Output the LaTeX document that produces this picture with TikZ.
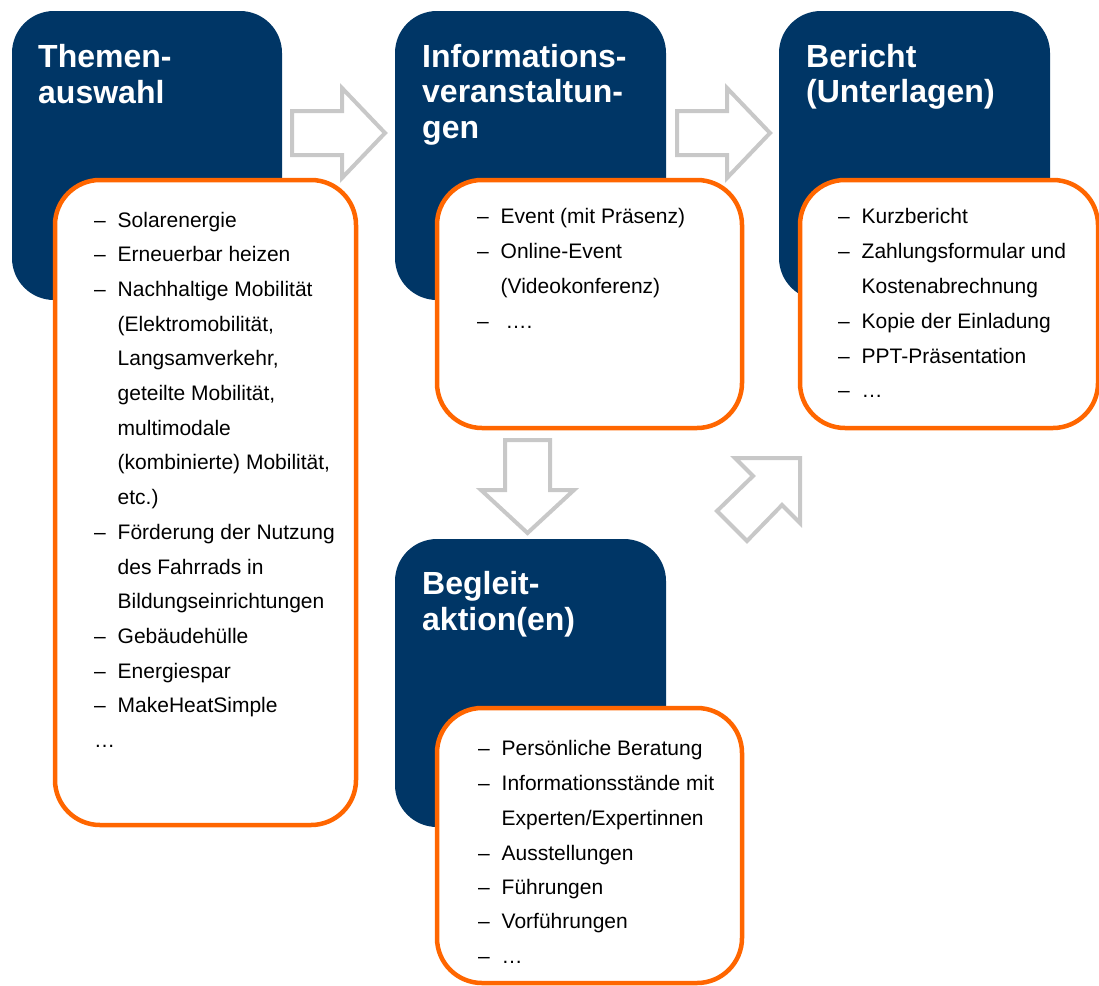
\documentclass[tikz,border=0pt]{standalone}
\usepackage{fontspec}
\setmainfont{Liberation Sans}
\definecolor{navy}{RGB}{0,54,102}
\definecolor{orng}{RGB}{255,102,0}
\definecolor{arrgray}{RGB}{200,200,200}
\tikzset{
  headbox/.style={rectangle, rounded corners=42pt, fill=navy, draw=none, inner sep=0pt},
  listbox/.style={rectangle, rounded corners=45pt, fill=white, draw=orng, line width=4.5pt, inner sep=0pt},
  blockarrow/.style={draw=arrgray, fill=white, line width=4pt, line join=miter},
  titletext/.style={anchor=base west, inner sep=0pt, text=white, font=\fontsize{32}{36}\selectfont\bfseries},
  itemtext/.style={anchor=base west, inner sep=0pt, text=black, font=\fontsize{21}{25}\selectfont},
}
\newcommand{\dsh}{\makebox[23.5pt][l]{–}}
\begin{document}
\begin{tikzpicture}[x=1pt,y=-1pt]
\useasboundingbox (0,0) rectangle (1099,985);
% header boxes
\node[headbox, minimum width=270pt, minimum height=289pt] (h1) at (147,155.5) {};
\node[headbox, minimum width=271pt, minimum height=289pt] (h2) at (530.5,155.5) {};
\node[headbox, minimum width=271pt, minimum height=289pt] (h3) at (914.5,155.5) {};
\node[headbox, minimum width=271pt, minimum height=288pt] (h4) at (530.5,683) {};
% list boxes
\node[listbox, minimum width=301pt, minimum height=645pt] (b1) at (205.5,502.5) {};
\node[listbox, minimum width=305pt, minimum height=248pt] (b2) at (589.5,304) {};
\node[listbox, minimum width=298pt, minimum height=248pt] (b3) at (949,304) {};
\node[listbox, minimum width=305pt, minimum height=275pt] (b4) at (589.5,845.5) {};
% block arrows
\draw[blockarrow] (292,111) -- (342,111) -- (342,88) -- (385,133) -- (342,178) -- (342,155) -- (292,155) -- cycle;
\draw[blockarrow] (677,111) -- (727,111) -- (727,88) -- (770,133) -- (727,178) -- (727,155) -- (677,155) -- cycle;
\draw[blockarrow] (505,440) -- (550,440) -- (550,490) -- (574,490) -- (527.5,533) -- (481,490) -- (505,490) -- cycle;
\draw[blockarrow] (800,458) -- (735,458) -- (753,476) -- (717,511) -- (747,541) -- (782,505) -- (800,523) -- cycle;
% titles
\node[titletext] (t1a) at (38,67) {Themen-};
\node[titletext] (t1b) at (38,103) {auswahl};
\node[titletext] (t2a) at (422,67) {Informations-};
\node[titletext] (t2b) at (422,102.5) {veranstaltun-};
\node[titletext] (t2c) at (422,138) {gen};
\node[titletext] (t3a) at (806,67) {Bericht};
\node[titletext] (t3b) at (806,102.5) {(Unterlagen)};
\node[titletext] (t4a) at (422,594) {Begleit-};
\node[titletext] (t4b) at (422,630) {aktion(en)};
% list 1
\node[itemtext] (l1a) at (94,227) {\dsh Solarenergie};
\node[itemtext] (l1b) at (94,261.7) {\dsh Erneuerbar heizen};
\node[itemtext] (l1c) at (94,296.4) {\dsh Nachhaltige Mobilität};
\node[itemtext] (l1d) at (117.5,331.1) {(Elektromobilität,};
\node[itemtext] (l1e) at (117.5,365.8) {Langsamverkehr,};
\node[itemtext] (l1f) at (117.5,400.5) {geteilte Mobilität,};
\node[itemtext] (l1g) at (117.5,435.2) {multimodale};
\node[itemtext] (l1h) at (117.5,469.9) {(kombinierte) Mobilität,};
\node[itemtext] (l1i) at (117.5,504.6) {etc.)};
\node[itemtext] (l1j) at (94,539.3) {\dsh Förderung der Nutzung};
\node[itemtext] (l1k) at (117.5,574) {des Fahrrads in};
\node[itemtext] (l1l) at (117.5,608.7) {Bildungseinrichtungen};
\node[itemtext] (l1m) at (94,643.4) {\dsh Gebäudehülle};
\node[itemtext] (l1n) at (94,678.1) {\dsh Energiespar};
\node[itemtext] (l1o) at (94,712.8) {\dsh MakeHeatSimple};
\node[itemtext] (l1p) at (94,747.5) {…};
% list 2
\node[itemtext] (l2a) at (477,223) {\dsh Event (mit Präsenz)};
\node[itemtext] (l2b) at (477,258) {\dsh Online-Event};
\node[itemtext] (l2c) at (500.5,293) {(Videokonferenz)};
\node[itemtext] (l2d) at (477,328) {\dsh\hspace{5pt}….};
% list 3
\node[itemtext] (l3a) at (838,223) {\dsh Kurzbericht};
\node[itemtext] (l3b) at (838,258) {\dsh Zahlungsformular und};
\node[itemtext] (l3c) at (861.5,293) {Kostenabrechnung};
\node[itemtext] (l3d) at (838,328) {\dsh Kopie der Einladung};
\node[itemtext] (l3e) at (838,363) {\dsh PPT-Präsentation};
\node[itemtext] (l3f) at (838,397) {\dsh …};
% list 4
\node[itemtext] (l4a) at (478,755) {\dsh Persönliche Beratung};
\node[itemtext] (l4b) at (478,790) {\dsh Informationsstände mit};
\node[itemtext] (l4c) at (501.5,825) {Experten/Expertinnen};
\node[itemtext] (l4d) at (478,860) {\dsh Ausstellungen};
\node[itemtext] (l4e) at (478,894) {\dsh Führungen};
\node[itemtext] (l4f) at (478,928) {\dsh Vorführungen};
\node[itemtext] (l4g) at (478,963) {\dsh …};
\end{tikzpicture}
\end{document}
